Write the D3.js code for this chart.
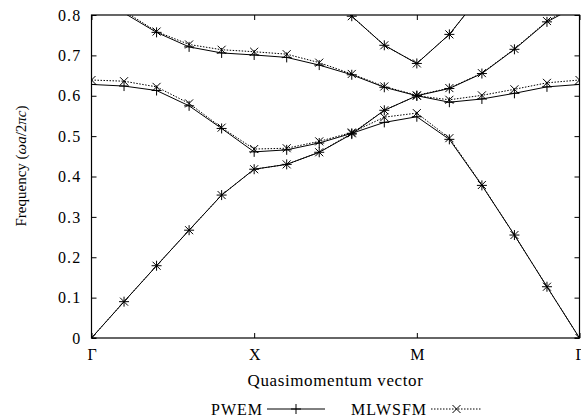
<!DOCTYPE html>
<html>
<head>
<meta charset="utf-8">
<script src="https://cdn.jsdelivr.net/npm/d3@7"></script>
<style>
  body { margin: 0; background: #fff; }
  svg { display: block; }
  svg text { font-family: 'Liberation Serif', 'DejaVu Serif', serif; fill: #000; }
</style>
</head>
<body>
<svg class="canvas" width="581" height="420"></svg>
<script>
'use strict';

// k-path points along Γ - X - M - Γ (5 steps per segment)
const kPoints = [0, 1, 2, 3, 4, 5, 6, 7, 8, 9, 10, 11, 12, 13, 14, 15];
const kTickPos = [0, 5, 10, 15];
const kTickLabels = ['Γ', 'X', 'M', 'Γ'];
const freqTicks = [0, 0.1, 0.2, 0.3, 0.4, 0.5, 0.6, 0.7, 0.8];

// PWEM bands (solid, +)
const pwemBand1 = [0, 0.090, 0.179, 0.267, 0.354, 0.418, 0.430, 0.460, 0.505, 0.564, 0.600, 0.584, 0.592, 0.606, 0.622, 0.628];
const pwemBand2 = [0.628, 0.624, 0.613, 0.575, 0.519, 0.461, 0.466, 0.483, 0.507, 0.534, 0.548, 0.492, 0.378, 0.255, 0.127, 0];
const pwemBand3 = [0.84, 0.805, 0.757, 0.721, 0.706, 0.701, 0.695, 0.676, 0.652, 0.621, 0.600, 0.618, 0.655, 0.715, 0.783, 0.826];
const pwemBand4 = [null, null, null, null, null, null, null, 0.86, 0.797, 0.725, 0.680, 0.752, 0.853, null, null, null];

// MLWSFM bands (dotted, ×)
const mlwsfmBand1 = [0, 0.090, 0.179, 0.267, 0.354, 0.418, 0.430, 0.460, 0.507, 0.564, 0.600, 0.590, 0.601, 0.616, 0.632, 0.639];
const mlwsfmBand2 = [0.639, 0.636, 0.622, 0.581, 0.521, 0.468, 0.470, 0.487, 0.509, 0.547, 0.557, 0.495, 0.379, 0.255, 0.127, 0];
const mlwsfmBand3 = [0.845, 0.81, 0.759, 0.727, 0.714, 0.709, 0.703, 0.682, 0.654, 0.623, 0.601, 0.619, 0.656, 0.716, 0.785, 0.83];
const mlwsfmBand4 = [null, null, null, null, null, null, null, 0.86, 0.797, 0.725, 0.680, 0.752, 0.853, null, null, null];

const svg = d3.select('.canvas'),
  plot = { left: 91.5, right: 579.5, top: 15, bottom: 338 },
  x = d3.scaleLinear([0, 15], [plot.left, plot.right]),
  y = d3.scaleLinear([0, 0.8], [plot.bottom, plot.top]);

const plusPath = 'M-5,0H5M0,-5V5',
  crossPath = 'M-4,-4L4,4M-4,4L4,-4';

const series = [
  { name: 'PWEM', bands: [pwemBand1, pwemBand2, pwemBand3, pwemBand4], dash: null, marker: plusPath },
  { name: 'MLWSFM', bands: [mlwsfmBand1, mlwsfmBand2, mlwsfmBand3, mlwsfmBand4], dash: '1.5,1.5', marker: crossPath },
];

svg.append('defs')
  .append('clipPath')
  .attr('id', 'plot-clip')
  .append('rect')
  .attr('x', plot.left)
  .attr('y', plot.top)
  .attr('width', plot.right - plot.left)
  .attr('height', plot.bottom - plot.top);

// Axes (ticks point inward on all sides)
const fmt = d => (d === 0 ? '0' : d.toFixed(1));
svg.append('g')
  .attr('transform', `translate(${plot.left},0)`)
  .call(d3.axisLeft(y).tickValues(freqTicks).tickFormat(fmt).tickSizeInner(-5).tickSizeOuter(0).tickPadding(10))
  .call(g => g.selectAll('text').style('font-size', '16px').style('letter-spacing', '1.2px'));
svg.append('g')
  .attr('transform', `translate(${plot.right},0)`)
  .call(d3.axisRight(y).tickValues(freqTicks).tickFormat('').tickSizeInner(-5).tickSizeOuter(0));
svg.append('g')
  .attr('transform', `translate(0,${plot.bottom})`)
  .call(d3.axisBottom(x).tickValues(kTickPos).tickFormat((d, i) => kTickLabels[i]).tickSizeInner(-5).tickSizeOuter(0).tickPadding(11))
  .call(g => g.selectAll('text').style('font-size', '16px'));
svg.append('g')
  .attr('transform', `translate(0,${plot.top})`)
  .call(d3.axisTop(x).tickValues(kTickPos).tickFormat('').tickSizeInner(-5).tickSizeOuter(0));
svg.selectAll('.domain').remove();
svg.selectAll('.tick line').attr('stroke', '#000');

svg.append('rect')
  .attr('x', plot.left)
  .attr('y', plot.top)
  .attr('width', plot.right - plot.left)
  .attr('height', plot.bottom - plot.top)
  .attr('fill', 'none')
  .attr('stroke', '#000')
  .attr('stroke-width', 1.2);

// Bands
const line = d3.line()
  .defined(d => d[1] != null)
  .x(d => x(d[0]))
  .y(d => y(d[1]));

const bandsG = svg.append('g').attr('clip-path', 'url(#plot-clip)');
series.forEach(s => {
  s.bands.forEach(band => {
    const pts = kPoints.map((k, i) => [k, band[i]]);
    bandsG.append('path')
      .attr('d', line(pts))
      .attr('fill', 'none')
      .attr('stroke', '#000')
      .attr('stroke-width', 1)
      .attr('stroke-dasharray', s.dash);
    bandsG.selectAll(null)
      .data(pts.filter(p => p[1] != null && p[1] <= 0.8))
      .enter()
      .append('path')
      .attr('transform', p => `translate(${x(p[0])},${y(p[1])})`)
      .attr('d', s.marker)
      .attr('fill', 'none')
      .attr('stroke', '#000')
      .attr('stroke-width', 1);
  });
});

// Axis titles
svg.append('text')
  .attr('x', (plot.left + plot.right) / 2)
  .attr('y', 386)
  .attr('text-anchor', 'middle')
  .style('font-size', '17px')
  .style('letter-spacing', '0.6px')
  .text('Quasimomentum vector');

const yTitle = svg.append('text')
  .attr('transform', 'translate(26,166) rotate(-90)')
  .attr('text-anchor', 'middle')
  .style('font-size', '15px');
yTitle.append('tspan').text('Frequency (');
yTitle.append('tspan').style('font-style', 'italic').text('ωa');
yTitle.append('tspan').text('/2');
yTitle.append('tspan').style('font-style', 'italic').text('πc');
yTitle.append('tspan').text(')');

// Legend
const legend = [
  { label: 'PWEM', textEnd: 263, x0: 267, x1: 325, dash: null, marker: plusPath },
  { label: 'MLWSFM', textEnd: 427, x0: 431, x1: 482, dash: '1.5,1.5', marker: crossPath },
];
const legendY = 409;
legend.forEach(l => {
  svg.append('text')
    .attr('x', l.textEnd)
    .attr('y', legendY + 6)
    .attr('text-anchor', 'end')
    .style('font-size', '16px')
    .style('letter-spacing', '1px')
    .text(l.label);
  svg.append('line')
    .attr('x1', l.x0).attr('x2', l.x1)
    .attr('y1', legendY).attr('y2', legendY)
    .attr('stroke', '#000')
    .attr('stroke-dasharray', l.dash);
  svg.append('path')
    .attr('transform', `translate(${(l.x0 + l.x1) / 2},${legendY})`)
    .attr('d', l.marker)
    .attr('fill', 'none')
    .attr('stroke', '#000');
});
</script>
</body>
</html>
